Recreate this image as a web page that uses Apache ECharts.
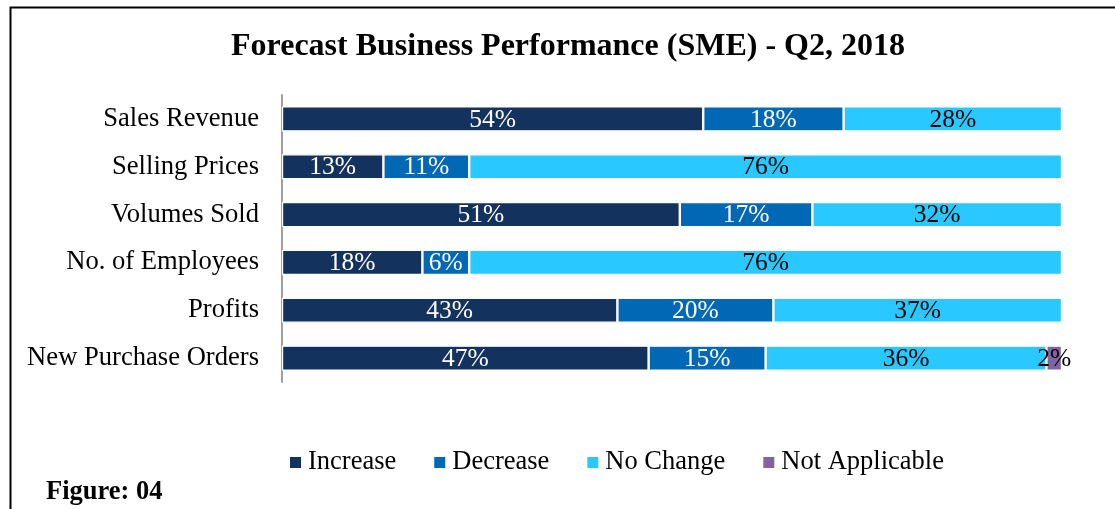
<!DOCTYPE html>
<html>
<head>
<meta charset="utf-8">
<script src="https://cdn.jsdelivr.net/npm/echarts@6/dist/echarts.min.js"></script>
<style>
  html, body { margin: 0; padding: 0; background: #fff; }
  #chart { width: 1115px; height: 509px; }
</style>
</head>
<body>
<div id="chart"></div>
<script>
// 类目（从上到下）
const categories = ['Sales Revenue', 'Selling Prices', 'Volumes Sold', 'No. of Employees', 'Profits', 'New Purchase Orders']
const increase = [54, 13, 51, 18, 43, 47]
const decrease = [18, 11, 17, 6, 20, 15]
const noChange = [28, 76, 32, 76, 37, 36]
const notApplicable = [0, 0, 0, 0, 0, 2]

const FONT = 'Liberation Serif'

function barSeries(name, data, color, labelColor) {
  return {
    name: name,
    type: 'bar',
    stack: 'total',
    barWidth: 25,
    data: data,
    itemStyle: { color: color, borderColor: '#fff', borderWidth: 1.2 },
    label: {
      show: true,
      position: 'inside',
      offset: [0, 1],
      color: labelColor,
      fontFamily: FONT,
      fontSize: 25.5,
      formatter: p => (p.value > 0 ? p.value + '%' : '')
    }
  }
}

let myChart = echarts.init(document.getElementById('chart'))
const option = {
  animation: false,
  title: {
    text: 'Forecast Business Performance (SME) - Q2, 2018',
    left: 226,
    top: 26,
    textStyle: { fontFamily: FONT, fontWeight: 'bold', fontSize: 32, color: '#000' }
  },
  legend: {
    left: 285,
    top: 444,
    icon: 'rect',
    itemWidth: 11,
    itemHeight: 11,
    itemGap: 38,
    itemStyle: { borderWidth: 0 },
    textStyle: { fontFamily: FONT, fontSize: 26.5, color: '#000', padding: [0, 0, 0, 2] },
    data: ['Increase', 'Decrease', 'No Change', 'Not Applicable']
  },
  grid: { left: 282, right: 53, top: 95, bottom: 127, containLabel: false },
  xAxis: { type: 'value', min: 0, max: 100, show: false },
  yAxis: {
    type: 'category',
    inverse: true,
    data: categories,
    axisLine: { lineStyle: { color: '#a0a0a0', width: 2 } },
    axisTick: { show: false },
    axisLabel: { fontFamily: FONT, fontSize: 26.6, color: '#000', margin: 23 }
  },
  series: [
    barSeries('Increase', increase, '#13335E', '#fff'),
    barSeries('Decrease', decrease, '#0068B5', '#fff'),
    barSeries('No Change', noChange, '#29C8FF', '#000'),
    barSeries('Not Applicable', notApplicable, '#8064A2', '#000')
  ],
  graphic: [
    {
      type: 'rect',
      left: 8, top: 5,
      shape: { width: 1200, height: 600 },
      style: { fill: 'none', stroke: '#000', lineWidth: 2 }
    },
    {
      type: 'text',
      left: 46, top: 479,
      style: { text: 'Figure: 04', font: 'bold 26.5px "Liberation Serif"', fill: '#000' }
    }
  ]
}
myChart.setOption(option)
</script>
</body>
</html>
